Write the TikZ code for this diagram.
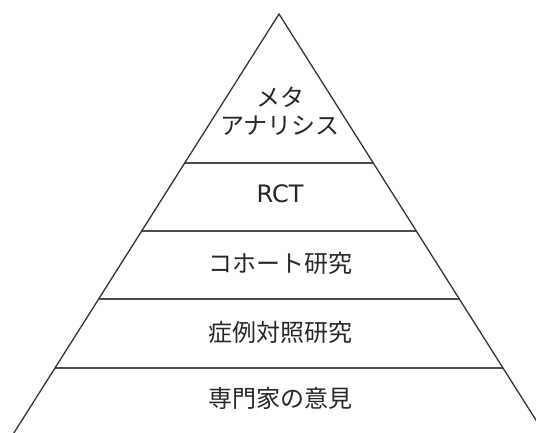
\documentclass[tikz,border=0pt]{standalone}
\usepackage{fontspec}
\setmainfont{Noto Sans CJK JP}
\newfontfamily\latinfont{DejaVu Sans}
\usetikzlibrary{calc}
\begin{document}
\begin{tikzpicture}[x=1pt,y=-1pt,
  edge/.style={line width=1.3pt,draw=black!80,line join=miter},
  tier/.style={line width=1.6pt,draw=black!70},
  label/.style={font=\fontsize{24}{28}\selectfont,text=black!85,align=center,inner sep=0pt}]
\useasboundingbox (0,0) rectangle (536,432);
\begin{scope}
\clip (0,0) rectangle (536,432);
\coordinate (A) at (279,14);
\coordinate (BL) at (14.5,432);
\coordinate (BR) at (543.5,432);
\coordinate (BLx) at ($(A)!1.05!(BL)$);
\coordinate (BRx) at ($(A)!1.05!(BR)$);
\foreach \t/\n in {0.3565/1,0.5191/2,0.6818/3,0.8469/4}{
  \coordinate (L\n) at ($(A)!\t!(BL)$);
  \coordinate (R\n) at ($(A)!\t!(BR)$);
}
\draw[tier] (L1) -- (R1);
\draw[tier] (L2) -- (R2);
\draw[tier] (L3) -- (R3);
\draw[tier] (L4) -- (R4);
\draw[edge] (BLx) -- (A) -- (BRx);
\end{scope}
\node[label] (meta) at (280,111) {メタ\\アナリシス};
\node[label,font=\latinfont\fontsize{24}{28}\selectfont] (rct) at (280,194) {RCT};
\node[label] (cohort) at (280,263) {コホート研究};
\node[label] (case) at (280,332) {症例対照研究};
\node[label] (expert) at (280,398) {専門家の意見};
\end{tikzpicture}
\end{document}
